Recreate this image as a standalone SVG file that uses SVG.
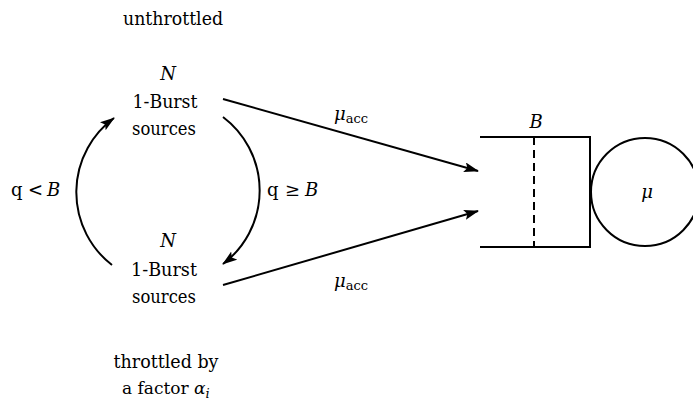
<svg xmlns="http://www.w3.org/2000/svg" width="693" height="401" viewBox="0 0 693 401">
<style>
text{font-family:'DejaVu Serif',serif;font-size:18px;fill:#000}
.i{font-style:italic}
.s{font-size:13px}
.ln{stroke:#000;stroke-width:2;fill:none}
</style>
<defs>
<marker id="ah" markerUnits="userSpaceOnUse" markerWidth="16" markerHeight="12" refX="14" refY="5" orient="auto">
<path d="M0,0 L15,5 L0,10 L3,5 Z" fill="#000"/>
</marker>
</defs>
<text x="173" y="25" text-anchor="middle" textLength="100" lengthAdjust="spacingAndGlyphs">unthrottled</text>
<g id="node-unthrottled">
<text class="i" x="168" y="80" text-anchor="middle">N</text>
<text x="165" y="108" text-anchor="middle" textLength="65" lengthAdjust="spacingAndGlyphs">1-Burst</text>
<text x="164" y="135" text-anchor="middle" textLength="64" lengthAdjust="spacingAndGlyphs">sources</text>
</g>
<g id="node-throttled">
<text class="i" x="168" y="247" text-anchor="middle">N</text>
<text x="164" y="276" text-anchor="middle" textLength="66" lengthAdjust="spacingAndGlyphs">1-Burst</text>
<text x="164" y="303" text-anchor="middle" textLength="64" lengthAdjust="spacingAndGlyphs">sources</text>
</g>
<text x="166" y="368" text-anchor="middle" textLength="105" lengthAdjust="spacingAndGlyphs">throttled by</text>
<text x="122" y="394" style="font-size:17px">a factor <tspan class="i">α</tspan><tspan class="s i" dy="4">i</tspan></text>
<g id="queue">
<path class="ln" d="M480,137 H590 V247 H480"/>
<line x1="534" y1="137" x2="534" y2="247" stroke="#000" stroke-width="2" stroke-dasharray="8,5"/>
<text class="i" x="536" y="128" text-anchor="middle">B</text>
</g>
<g id="server">
<circle cx="645" cy="192" r="54" fill="#fff" stroke="#000" stroke-width="2"/>
<text class="i" x="647" y="198" text-anchor="middle">μ</text>
</g>
<g id="connectors">
<line class="ln" x1="223" y1="99" x2="478" y2="171" marker-end="url(#ah)"/>
<line class="ln" x1="223" y1="285" x2="478" y2="211" marker-end="url(#ah)"/>
<path class="ln" d="M223,117 A92,92 0 0 1 223,264" marker-end="url(#ah)"/>
<path class="ln" d="M112,265 A92,92 0 0 1 114,118" marker-end="url(#ah)"/>
</g>
<text x="334" y="120"><tspan class="i">μ</tspan><tspan class="s" dy="3">acc</tspan></text>
<text x="334" y="287"><tspan class="i">μ</tspan><tspan class="s" dy="3">acc</tspan></text>
<g id="label-lt">
<text x="11" y="196">q</text>
<text x="28" y="196">&lt;</text>
<text class="i" x="47" y="196">B</text>
</g>
<g id="label-ge">
<text x="267" y="196">q</text>
<text x="285" y="196">≥</text>
<text class="i" x="305" y="196">B</text>
</g>
</svg>
